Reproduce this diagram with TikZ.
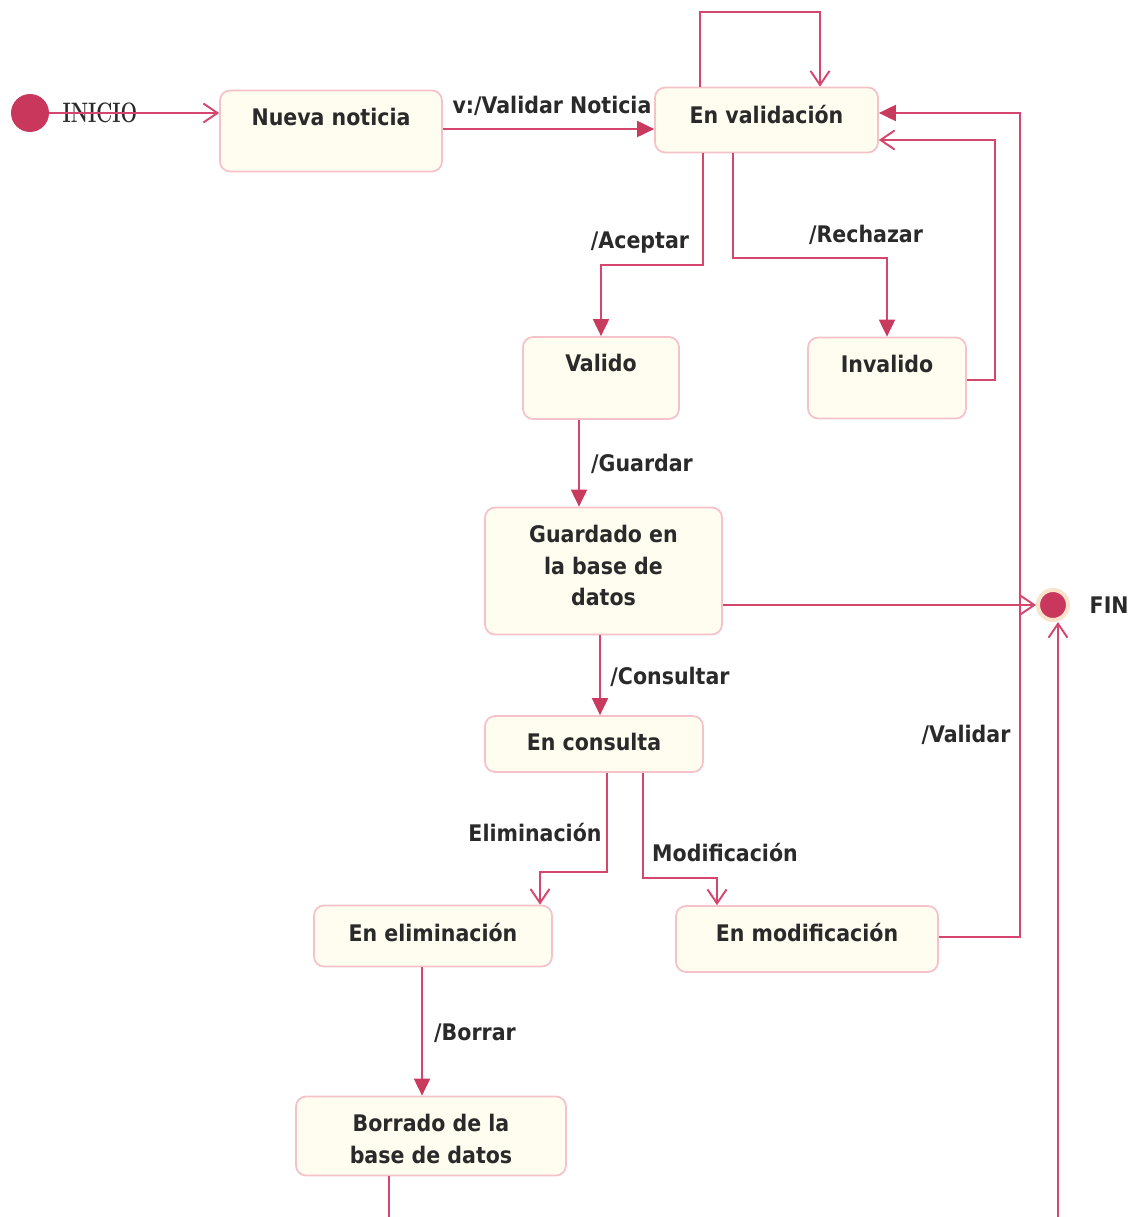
\documentclass[tikz,border=0pt]{standalone}
\usepackage{fontspec}
\setsansfont{DejaVu Sans Condensed}
\usepackage{tikz}
\usetikzlibrary{arrows.meta,positioning,calc}

\definecolor{linered}{HTML}{D4466E}
\definecolor{tipred}{HTML}{C83A5E}
\definecolor{boxline}{HTML}{F5C2CA}
\definecolor{boxfill}{HTML}{FFFDF0}
\definecolor{dotred}{HTML}{C9385C}
\definecolor{ringcol}{HTML}{F8E2CC}
\definecolor{txt}{HTML}{2A2A2A}

\newcommand{\stfont}{\sffamily\bfseries\fontsize{13}{18.1}\selectfont}

\tikzset{
  state/.style={draw=boxline, fill=boxfill, line width=1pt, rounded corners=0.2cm, inner sep=0pt},
  statename/.style={anchor=north, inner sep=0pt, yshift=-0.36cm, align=center, font=\stfont, text=txt},
  trans/.style={draw=linered, line width=1.1pt},
  fullhead/.style={-{Triangle[length=0.34cm,width=0.32cm,color=tipred]}},
  openhead/.style={-{Straight Barb[length=0.28cm,width=0.38cm]}},
  translabel/.style={font=\stfont, text=txt}
}

\begin{document}
\begin{tikzpicture}[x=0.02cm, y=-0.02cm]
  \useasboundingbox (0,0) rectangle (1133,1217);

  % Start and end
  \node[circle, fill=dotred, minimum size=0.76cm, inner sep=0pt] (ini) at (30,113) {};
  \node[font=\rmfamily\bfseries\fontsize{16}{20}\selectfont, text=txt] (inicio) at (100,113) {\scalebox{0.7}[1]{INICIO}};
  \node[circle, fill=dotred, draw=ringcol, line width=0.08cm, minimum size=0.6cm, inner sep=0pt] (fin) at (1053,605) {};
  \node[translabel, right=0.27cm of fin] (finlbl) {FIN};

  % States
  \node[state, minimum width=4.44cm, minimum height=1.62cm, label={[statename]north:Nueva noticia}] (nueva) at (331,131) {};
  \node[state, minimum width=4.46cm, minimum height=1.30cm, label={[statename]north:En validación}] (valid) at (766.5,120) {};
  \node[state, minimum width=3.12cm, minimum height=1.64cm, label={[statename]north:Valido}] (valido) at (601,378) {};
  \node[state, minimum width=3.16cm, minimum height=1.62cm, label={[statename]north:Invalido}] (invalido) at (887,378) {};
  \node[state, minimum width=4.74cm, minimum height=2.54cm, label={[statename]north:Guardado en\\la base de\\datos}] (guardado) at (603.5,571) {};
  \node[state, minimum width=4.36cm, minimum height=1.12cm, label={[statename]north:En consulta}] (consulta) at (594,744) {};
  \node[state, minimum width=4.76cm, minimum height=1.22cm, label={[statename]north:En eliminación}] (elim) at (433,936) {};
  \node[state, minimum width=5.24cm, minimum height=1.32cm, label={[statename]north:En modificación}] (modif) at (807,939) {};
  \node[state, minimum width=5.40cm, minimum height=1.58cm, label={[statename]north:Borrado de la\\base de datos}] (borrado) at (431,1136) {};

  % Transitions
  \draw[trans, openhead] (ini.east) -- (ini.east -| nueva.west);
  \draw[trans, fullhead] (nueva.east |- 0,129) -- (valid.west |- 0,129);
  \draw[trans, openhead] (valid.north -| 700,0) -- (700,12) -- (820,12) -- (valid.north -| 820,0);
  \draw[trans, fullhead] (valid.south -| 703,0) -- (703,265) -| (valido.north);
  \draw[trans, fullhead] (valid.south -| 733,0) -- (733,258) -| (invalido.north);
  \draw[trans, openhead] (invalido.east |- 0,380) -| (995,140) -- (valid.east |- 995,140);
  \draw[trans, fullhead] (modif.east |- 0,937) -| (1020,113) -- (valid.east |- 1020,113);
  \draw[trans, fullhead] (valido.south -| 579,0) -- (guardado.north -| 579,0);
  \draw[trans, openhead] (guardado.east |- fin) -- (fin.west);
  \draw[trans, fullhead] (guardado.south -| 600,0) -- (consulta.north -| 600,0);
  \draw[trans, openhead] (consulta.south -| 607,0) -- (607,872) -| (elim.north -| 540,0);
  \draw[trans, openhead] (consulta.south -| 643,0) -- (643,878) -| (modif.north -| 717,0);
  \draw[trans, fullhead] (elim.south -| 422,0) -- (borrado.north -| 422,0);
  \draw[trans, openhead] (borrado.south -| 389,0) -- (389,1240) -| (fin.south -| 1058,0);

  % Transition labels
  \node[translabel] (lblvalnot) at (552,106) {v:/Validar Noticia};
  \node[translabel] (lblacept) at (640,243) {/Aceptar};
  \node[translabel] (lblrech) at (866,235) {/Rechazar};
  \node[translabel] (lblguard) at (642,464) {/Guardar};
  \node[translabel] (lblcons) at (670,677) {/Consultar};
  \node[translabel] (lblvalid) at (966,735) {/Validar};
  \node[translabel] (lblelim) at (535,833) {Eliminación};
  \node[translabel] (lblmodif) at (725,853) {Modificación};
  \node[translabel] (lblborr) at (475,1033) {/Borrar};
\end{tikzpicture}
\end{document}
